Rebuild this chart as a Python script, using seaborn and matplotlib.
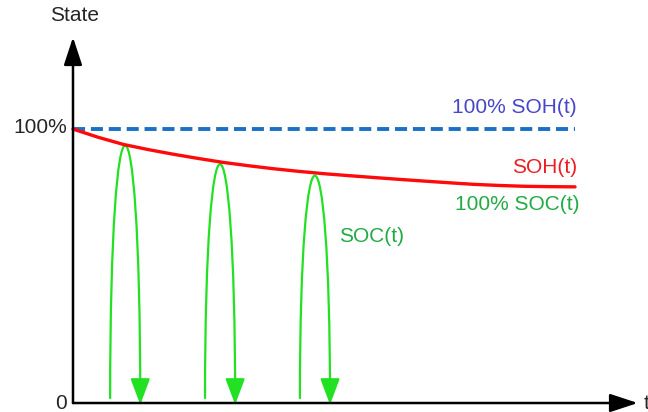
import pandas as pd
import seaborn as sns
import matplotlib.pyplot as plt
from matplotlib.path import Path
from matplotlib.patches import FancyArrowPatch

# time in arbitrary units, state in percent
time = [0, 0.5, 1, 1.5, 2, 2.5, 3, 3.5, 4, 4.5, 5,
        5.5, 6, 6.5, 7, 7.5, 8, 8.5, 9, 9.5, 10]
soh = [100, 97.0, 94.4, 92.5, 90.8, 89.25, 87.8, 86.6, 85.5, 84.55, 83.7,
       82.98, 82.3, 81.63, 81.0, 80.38, 79.8, 79.4, 79.1, 78.97, 78.9]
soh_max = [100] * len(time)

# charge / discharge cycles of SOC(t)
cycle_start = [0.74, 2.63, 4.52]
cycle_end = [1.34, 3.23, 5.12]
cycle_peak = [94.0, 87.2, 83.0]

sns.set_style("white")
plt.rcParams["font.family"] = ["Liberation Sans", "DejaVu Sans"]

fig = plt.figure(figsize=(6.48, 4.12), dpi=100)
ax = fig.add_axes([0, 0, 1, 1])

df = pd.DataFrame({"t": time, "SOH": soh, "max": soh_max})
sns.lineplot(x="t", y="max", data=df, ax=ax, color="#1a70c4", lw=2.8,
             linestyle=(0, (3.1, 1.5)))
sns.lineplot(x="t", y="SOH", data=df, ax=ax, color="#ff0a0a", lw=2.4)

green = "#22e022"
for x0, x1, peak in zip(cycle_start, cycle_end, cycle_peak):
    y0, y1 = 1.8, -0.6
    h = (peak - 0.25 * (y0 + y1)) / 0.75
    path = Path([(x0, y0), (x0, h), (x1, h), (x1, y1)],
                [Path.MOVETO, Path.CURVE4, Path.CURVE4, Path.CURVE4])
    arr = FancyArrowPatch(path=path, arrowstyle="-|>,head_length=0.8,head_width=0.3",
                          mutation_scale=20, color=green, lw=1.6,
                          shrinkA=0, shrinkB=0)
    ax.add_patch(arr)

# axes with arrows
for tip in [(0, 133.5), (11.25, 0)]:
    ax.annotate("", xy=tip, xytext=(0, 0),
                arrowprops=dict(arrowstyle="-|>,head_length=0.85,head_width=0.28",
                                mutation_scale=20, color="black", lw=1.8,
                                shrinkA=0, shrinkB=0))

fs = 15
ax.text(0.04, 141.6, "State", ha="center", va="center", fontsize=fs)
ax.text(-0.12, 100.5, "100%", ha="right", va="center", fontsize=fs)
ax.text(-0.12, 0, "0", ha="right", va="center", fontsize=fs)
ax.text(11.36, 0, "t", ha="left", va="center", fontsize=fs)
ax.text(10.04, 107.8, "100% SOH(t)", ha="right", va="center", fontsize=fs, color="#4646c8")
ax.text(10.04, 85.8, "SOH(t)", ha="right", va="center", fontsize=fs, color="#ee1c24")
ax.text(10.08, 72.4, "100% SOC(t)", ha="right", va="center", fontsize=fs, color="#22aa44")
ax.text(5.3, 60.9, "SOC(t)", ha="left", va="center", fontsize=fs, color="#22aa44")

ax.set_xlim(-1.454, 11.454)
ax.set_ylim(-3.28, 147.1)
ax.axis("off")

fig.savefig("out.png", dpi=100)
